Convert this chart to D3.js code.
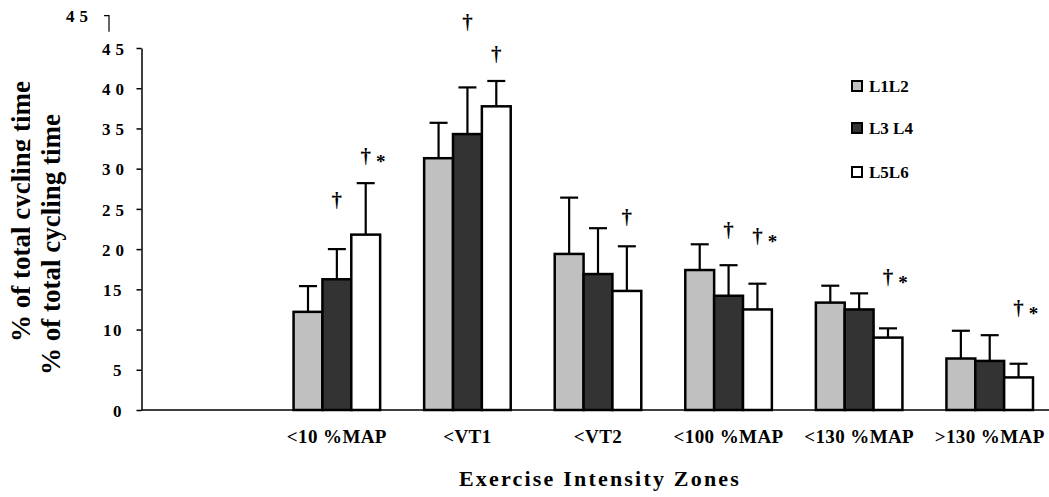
<!DOCTYPE html>
<html>
<head>
<meta charset="utf-8">
<script src="https://cdn.jsdelivr.net/npm/d3@7"></script>
<style>
  html, body { margin: 0; padding: 0; background: #fff; }
  svg { display: block; }
  text { font-family: "Liberation Serif", "Times New Roman", serif; font-weight: bold; fill: #000; }
</style>
</head>
<body>
<svg id="chart" width="1049" height="497"></svg>
<script>
// ---- data ----
const categories = ["<10 %MAP", "<VT1", "<VT2", "<100 %MAP", "<130 %MAP", ">130 %MAP"];
const series = ["L1L2", "L3 L4", "L5L6"];
const meanL1L2 = [12.2, 31.3, 19.4, 17.4, 13.35, 6.4];
const sdL1L2   = [3.2, 4.4, 7.0, 3.2, 2.1, 3.45];
const meanL3L4 = [16.25, 34.3, 16.9, 14.2, 12.5, 6.1];
const sdL3L4   = [3.75, 5.8, 5.7, 3.8, 2.0, 3.2];
const meanL5L6 = [21.8, 37.75, 14.8, 12.5, 9.0, 4.05];
const sdL5L6   = [6.4, 3.15, 5.55, 3.2, 1.15, 1.7];
const yTicks = [0, 5, 10, 15, 20, 25, 30, 35, 40, 45];
// significance marks: category, series index, height (axis units), symbols
const markCat    = ["<10 %MAP", "<10 %MAP", "<VT1", "<VT1", "<VT2", "<100 %MAP", "<100 %MAP", "<130 %MAP", ">130 %MAP"];
const markSeries = [1, 2, 1, 2, 2, 1, 2, 2, 2];
const markY      = [26.0, 31.45, 48.1, 44.1, 23.9, 22.3, 21.5, 16.4, 12.5];
const markStar   = [false, true, false, false, false, false, true, true, true];

const means = [meanL1L2, meanL3L4, meanL5L6];
const sds = [sdL1L2, sdL3L4, sdL5L6];
const colors = ["#c0c0c0", "#333333", "#ffffff"];

// ---- scales ----
const svg = d3.select("#chart");
const x0 = d3.scaleBand().domain([""].concat(categories)).range([141, 1055])
  .paddingInner(0.337).paddingOuter(0.1685);
const x1 = d3.scaleBand().domain(d3.range(series.length)).range([0, x0.bandwidth()]);
const y = d3.scaleLinear().domain([0, 45]).range([410, 48]);

// ---- bars ----
const rows = [];
categories.forEach((c, i) => series.forEach((s, j) => rows.push({c, j, m: means[j][i], sd: sds[j][i]})));

const g = svg.append("g");
g.selectAll("rect.bar").data(rows).join("rect")
  .attr("class", "bar")
  .attr("x", d => x0(d.c) + x1(d.j))
  .attr("width", x1.bandwidth())
  .attr("y", d => y(d.m))
  .attr("height", d => y(0) - y(d.m))
  .attr("fill", d => colors[d.j])
  .attr("stroke", "#000").attr("stroke-width", 2.5);

// error bars
const cx = d => x0(d.c) + x1(d.j) + x1.bandwidth() / 2;
g.selectAll("line.err").data(rows).join("line")
  .attr("x1", cx).attr("x2", cx)
  .attr("y1", d => y(d.m)).attr("y2", d => y(d.m + d.sd))
  .attr("stroke", "#000").attr("stroke-width", 2.2);
g.selectAll("line.cap").data(rows).join("line")
  .attr("x1", d => cx(d) - 9).attr("x2", d => cx(d) + 9)
  .attr("y1", d => y(d.m + d.sd)).attr("y2", d => y(d.m + d.sd))
  .attr("stroke", "#000").attr("stroke-width", 2.2);

// significance marks
markCat.forEach((c, k) => {
  const mx = x0(c) + x1(markSeries[k]) + x1.bandwidth() / 2;
  const my = y(markY[k]);
  svg.append("text").attr("x", mx).attr("y", my + 6)
    .attr("text-anchor", "middle").style("font-size", "21px").text("†");
  if (markStar[k]) {
    svg.append("text").attr("x", mx + 15).attr("y", my + 11)
      .attr("text-anchor", "middle").style("font-size", "19px").text("*");
  }
});

// ---- axes ----
svg.append("line").attr("x1", 141.5).attr("x2", 1049).attr("y1", y(0)).attr("y2", y(0))
  .attr("stroke", "#000").attr("stroke-width", 1.5);

const yAxis = svg.append("g").attr("transform", "translate(141.5,0)")
  .call(d3.axisLeft(y).tickValues(yTicks).tickSize(5).tickPadding(0).tickSizeOuter(0));
yAxis.select(".domain").attr("stroke", "#000").attr("stroke-width", 1.5);
yAxis.selectAll(".tick line").attr("stroke", "#000").attr("stroke-width", 1.5);
yAxis.selectAll(".tick text")
  .attr("font-family", null).attr("font-size", null)
  .style("font-size", "17px")
  .style("letter-spacing", d => (d >= 20 ? "5px" : "1.5px"))
  .attr("x", d => (d >= 20 ? -17.5 + 5 : -20 + 1.5))
  .attr("dy", "0.36em");

// stray top tick
svg.append("text").attr("x", 66).attr("y", 21.5).style("font-size", "17px")
  .style("letter-spacing", "5px").text("45");
svg.append("path").attr("d", "M104,15.7H109V31.7").attr("fill", "none")
  .attr("stroke", "#000").attr("stroke-width", 1.2);

// x labels
svg.selectAll("text.xlab").data(categories).join("text")
  .attr("class", "xlab")
  .attr("x", d => x0(d) + x0.bandwidth() / 2)
  .attr("y", 443)
  .attr("text-anchor", "middle")
  .style("font-size", "19px").style("letter-spacing", "0.4px")
  .text(d => d);

svg.append("text").attr("x", 600).attr("y", 486).attr("text-anchor", "middle")
  .style("font-size", "22px").style("letter-spacing", "2.2px")
  .text("Exercise Intensity Zones");

// y labels (duplicated in original)
const defs = svg.append("defs");
defs.append("clipPath").attr("id", "clipL").append("rect")
  .attr("x", 0).attr("y", 0).attr("width", 30.2).attr("height", 497);
svg.append("g").attr("clip-path", "url(#clipL)").append("text")
  .attr("transform", "translate(29.5,211.5) rotate(-90)")
  .attr("text-anchor", "middle").style("font-size", "27px")
  .text("% of total cycling time");
svg.append("text")
  .attr("transform", "translate(60,244.5) rotate(-90)")
  .attr("text-anchor", "middle").style("font-size", "27px")
  .text("% of total cycling time");

// legend
const legY = [86, 128, 172];
const leg = svg.selectAll("g.leg").data(series).join("g").attr("class", "leg")
  .attr("transform", (d, i) => `translate(852,${legY[i]})`);
leg.append("rect").attr("x", 0).attr("y", -5).attr("width", 10).attr("height", 10)
  .attr("fill", (d, i) => colors[i]).attr("stroke", "#000").attr("stroke-width", 2);
leg.append("text").attr("x", 17).attr("y", 5.5).style("font-size", "17px").text(d => d);
</script>
</body>
</html>
